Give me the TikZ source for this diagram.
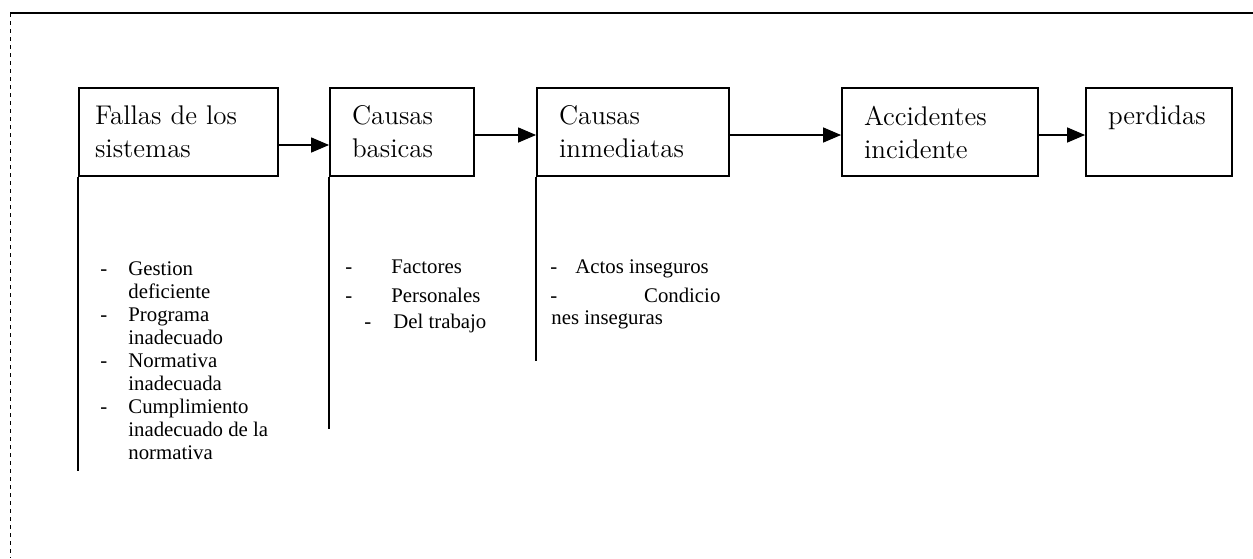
\documentclass[tikz,border=0pt]{standalone}
\usepackage{fontspec}
\newfontfamily\listfont{Liberation Serif}
\usetikzlibrary{arrows.meta,calc}
\begin{document}
\begin{tikzpicture}[x=0.5pt,y=-0.5pt,
  stagebox/.style={draw, line width=0.9pt, minimum height=44pt, align=left,
    inner xsep=11pt, font=\fontsize{13.5}{16.5}\selectfont},
  flow/.style={line width=0.65pt, -{Triangle[length=9pt,width=7.5pt]}},
  stem/.style={line width=0.75pt},
  item/.style={anchor=base west, inner sep=0pt, font=\listfont\fontsize{10.4}{11.5}\selectfont}]
\useasboundingbox (0,0) rectangle (1253,558);

% frame edges
\draw[line width=0.8pt] (10,13) -- (1253,13);
\draw[line width=0.45pt, dash pattern=on 2pt off 2pt] (10,13) -- (10,558);

% stage boxes
\node[stagebox, minimum width=99.5pt, inner xsep=8pt, text width=83.5pt] (b1) at (178.5,132) {Fallas de los\\sistemas};
\node[stagebox, minimum width=72pt, text width=50pt] (b2) at (402,132) {Causas\\basicas};
\node[stagebox, minimum width=96pt, text width=74pt] (b3) at (633,132) {Causas\\inmediatas};
\node[stagebox, minimum width=98pt, text width=76pt] (b4) at (940,132) {Accidentes\\incidente};
\node[stagebox, minimum width=73pt, text width=51pt] (b5) at (1159,132) {perdidas\\\mbox{}};

% flow arrows
\draw[flow] ($(b1.east)+(0,13)$) -- ($(b2.west)+(0,13)$);
\draw[flow] ($(b2.east)+(0,3)$) -- ($(b3.west)+(0,3)$);
\draw[flow] ($(b3.east)+(0,3)$) -- ($(b4.west)+(0,3)$);
\draw[flow] ($(b4.east)+(0,3)$) -- ($(b5.west)+(0,3)$);

% stems under the first three boxes
\coordinate (s1) at ($(b1.south west)+(0,294)$);
\coordinate (s2) at ($(b2.south west)+(0,252)$);
\coordinate (s3) at ($(b3.south west)+(0,184)$);
\draw[stem] (b1.south west) -- (s1);
\draw[stem] (b2.south west) -- (s2);
\draw[stem] (b3.south west) -- (s3);

% system failures
\node[item] (g1) at (100,275) {\makebox[14pt][l]{-}Gestion};
\node[item] (g2) at (100,298) {\makebox[14pt][l]{}deficiente};
\node[item] (g3) at (100,321) {\makebox[14pt][l]{-}Programa};
\node[item] (g4) at (100,344) {\makebox[14pt][l]{}inadecuado};
\node[item] (g5) at (100,367) {\makebox[14pt][l]{-}Normativa};
\node[item] (g6) at (100,390) {\makebox[14pt][l]{}inadecuada};
\node[item] (g7) at (100,413) {\makebox[14pt][l]{-}Cumplimiento};
\node[item] (g8) at (100,436) {\makebox[14pt][l]{}inadecuado de la};
\node[item] (g9) at (100,459) {\makebox[14pt][l]{}normativa};

% basic causes
\node[item] (f1) at (345,273) {\makebox[23pt][l]{-}Factores};
\node[item] (f2) at (345,302) {\makebox[23pt][l]{-}Personales};
\node[item] (f3) at (364,328) {\makebox[14.5pt][l]{-}Del trabajo};

% immediate causes
\node[item] (a1) at (550,273) {\makebox[12.5pt][l]{-}Actos inseguros};
\node[item] (a2) at (550,302) {\makebox[85pt][l]{-\hfill Condicio}};
\node[item] (a3) at (551,324) {nes inseguras};
\end{tikzpicture}
\end{document}
